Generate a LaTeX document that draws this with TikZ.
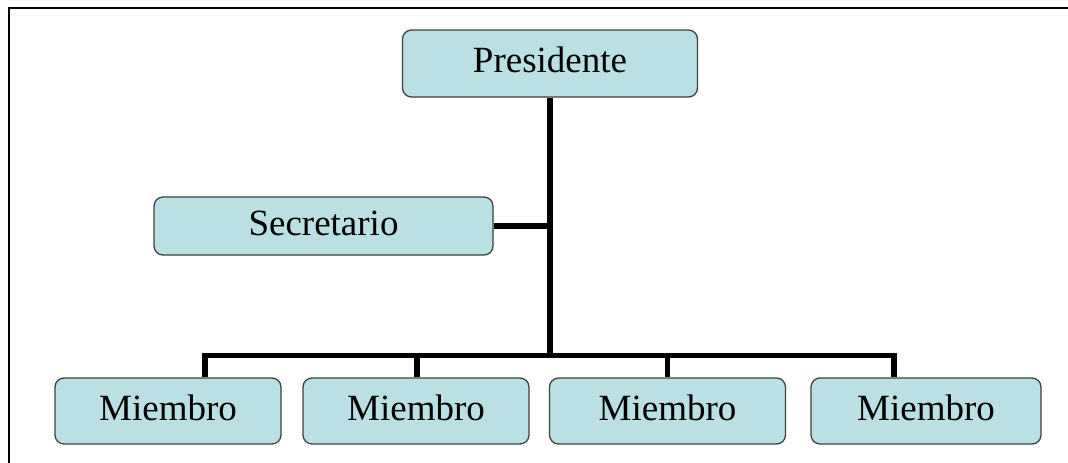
\documentclass[tikz,border=0pt]{standalone}
\usepackage{fontspec}
\setmainfont{Liberation Serif}
\usepackage{tikz}
\usetikzlibrary{positioning}

\definecolor{boxfill}{HTML}{BAE0E3}
\definecolor{boxline}{HTML}{404040}

\tikzset{
	cargo/.style={draw=boxline, line width=1.3pt, fill=boxfill, rounded corners=9pt,
		font=\fontsize{37}{40}\selectfont, inner sep=0pt, text height=26pt, text depth=8pt},
	enlace/.style={line width=5.5pt, line cap=rect}
}

\begin{document}
\begin{tikzpicture}[x=1pt,y=-1pt]
		\useasboundingbox (0,0) rectangle (1068,463);
		\draw[line width=2pt] (9,463) -- (9,8) -- (1068,8);

		\node[cargo, minimum width=295pt, minimum height=67pt] (presidente) at (550,63.5) {Presidente};
		\node[cargo, minimum width=339pt, minimum height=58pt] (secretario) at (323.5,226) {Secretario};

		\node[cargo, minimum width=226pt, minimum height=66pt] (miembroA) at (168,411) {Miembro};
		\node[cargo, minimum width=226pt, minimum height=66pt] (miembroB) at (416,411) {Miembro};
		\node[cargo, minimum width=236pt, minimum height=66pt] (miembroC) at (667.5,411) {Miembro};
		\node[cargo, minimum width=230pt, minimum height=66pt] (miembroD) at (926,411) {Miembro};

		\coordinate (barra) at ([yshift=22pt]miembroA.north -| presidente.south);
		\coordinate (barraA) at ([xshift=37pt,yshift=22pt]miembroA.north);
		\coordinate (barraD) at ([xshift=-32pt,yshift=22pt]miembroD.north);

		\draw[enlace, line cap=butt] (presidente.south) -- (barra);
		\draw[enlace, line cap=butt] (secretario.east) -- (secretario.east -| presidente.south);
		\draw[enlace] (barraA) -- (barraD);
		\draw[enlace, line cap=butt] (barraA) -- (barraA |- miembroA.north);
		\draw[enlace, line cap=butt] ([xshift=1pt]barra -| miembroB.north) -- ([xshift=1pt]miembroB.north);
		\draw[enlace, line cap=butt] (barra -| miembroC.north) -- (miembroC.north);
		\draw[enlace, line cap=butt] (barraD) -- (barraD |- miembroD.north);
\end{tikzpicture}
\end{document}
